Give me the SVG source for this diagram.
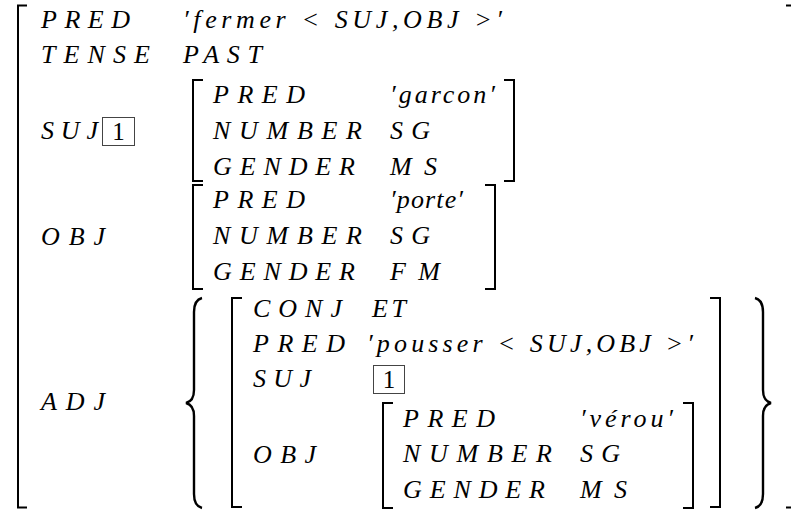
<svg xmlns="http://www.w3.org/2000/svg" width="791" height="510" viewBox="0 0 791 510">
<style>
text{font-family:"Liberation Serif","Times New Roman",serif;font-size:26px;font-style:italic;fill:#000}
text.n{font-style:normal;font-size:25px;text-anchor:middle}
.br{fill:none;stroke:#000;stroke-width:2}
.bx{fill:none;stroke:#444;stroke-width:1}
.cb{fill:none;stroke:#000;stroke-width:2.4}
</style>
<rect width="791" height="510" fill="#fff"/>
<g id="outer">
<path class="br" d="M27 5.5 H18 V507.5 H27"/>
<path class="br" d="M786 5.5 H797 V507.5 H786"/>
<text x="41" y="28" textLength="89" lengthAdjust="spacing">PRED</text>
<text x="183" y="28" textLength="319" lengthAdjust="spacing">′fermer &lt; SUJ,OBJ &gt;′</text>
<text x="41" y="63" textLength="109" lengthAdjust="spacing">TENSE</text>
<text x="183" y="63" textLength="79" lengthAdjust="spacing">PAST</text>
<text x="41" y="139" textLength="57" lengthAdjust="spacing">SUJ</text>
<rect class="bx" x="102.5" y="117.5" width="32" height="28"/>
<text class="n" x="118.5" y="140">1</text>
<text x="41" y="245" textLength="64" lengthAdjust="spacing">OBJ</text>
<text x="41" y="410" textLength="64" lengthAdjust="spacing">ADJ</text>
</g>
<g id="suj">
<path class="br" d="M203 80 H193 V181 H203"/>
<path class="br" d="M504 80 H514 V181 H504"/>
<text x="213" y="103" textLength="92" lengthAdjust="spacing">PRED</text>
<text x="390" y="103" textLength="105" lengthAdjust="spacing">′garcon′</text>
<text x="213" y="139" textLength="149" lengthAdjust="spacing">NUMBER</text>
<text x="390" y="139" textLength="40" lengthAdjust="spacing">SG</text>
<text x="213" y="175" textLength="142" lengthAdjust="spacing">GENDER</text>
<text x="390" y="175" textLength="47" lengthAdjust="spacing">MS</text>
</g>
<g id="obj">
<path class="br" d="M203 185 H193 V289 H203"/>
<path class="br" d="M485 185 H495 V289 H485"/>
<text x="213" y="208" textLength="92" lengthAdjust="spacing">PRED</text>
<text x="390" y="208" textLength="73" lengthAdjust="spacing">′porte′</text>
<text x="213" y="244" textLength="149" lengthAdjust="spacing">NUMBER</text>
<text x="390" y="244" textLength="40" lengthAdjust="spacing">SG</text>
<text x="213" y="280" textLength="142" lengthAdjust="spacing">GENDER</text>
<text x="390" y="280" textLength="50" lengthAdjust="spacing">FM</text>
</g>
<g id="adj">
<path class="cb" d="M202 298 Q194 300 194 312 L194 390 Q194 401 186 403 Q194 405 194 416 L194 494 Q194 506 202 508"/>
<path class="cb" d="M755 298 Q763 300 763 312 L763 390 Q763 401 771 403 Q763 405 763 416 L763 494 Q763 506 755 508"/>
<path class="br" d="M242 298 H232 V507 H242"/>
<path class="br" d="M710 298 H720 V507 H710"/>
<text x="253" y="317" textLength="89" lengthAdjust="spacing">CONJ</text>
<text x="372" y="317" textLength="34" lengthAdjust="spacing">ET</text>
<text x="253" y="352" textLength="92" lengthAdjust="spacing">PRED</text>
<text x="367" y="352" textLength="326" lengthAdjust="spacing">′pousser &lt; SUJ,OBJ &gt;′</text>
<text x="253" y="387" textLength="58" lengthAdjust="spacing">SUJ</text>
<rect class="bx" x="373.5" y="365.5" width="31" height="28"/>
<text class="n" x="389" y="388">1</text>
<text x="253" y="463" textLength="63" lengthAdjust="spacing">OBJ</text>
</g>
<g id="adj-obj">
<path class="br" d="M393 403 H383 V508 H393"/>
<path class="br" d="M683 403 H693 V508 H683"/>
<text x="403" y="427" textLength="92" lengthAdjust="spacing">PRED</text>
<text x="580" y="427" textLength="93" lengthAdjust="spacing">′vérou′</text>
<text x="403" y="462" textLength="149" lengthAdjust="spacing">NUMBER</text>
<text x="580" y="462" textLength="40" lengthAdjust="spacing">SG</text>
<text x="403" y="498" textLength="142" lengthAdjust="spacing">GENDER</text>
<text x="580" y="498" textLength="47" lengthAdjust="spacing">MS</text>
</g>
</svg>
